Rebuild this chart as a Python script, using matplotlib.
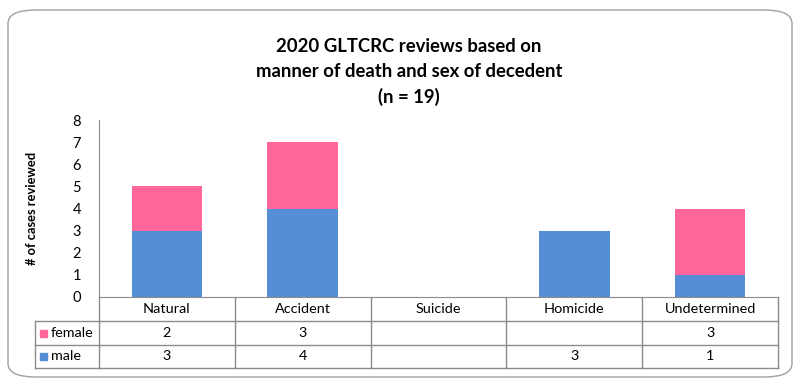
import matplotlib
matplotlib.use("Agg")
import matplotlib.pyplot as plt
from matplotlib.patches import FancyBboxPatch, Rectangle
from matplotlib.transforms import blended_transform_factory
import numpy as np

categories = ["Natural", "Accident", "Suicide", "Homicide", "Undetermined"]
male = [3, 4, None, 3, 1]
female = [2, 3, None, None, 3]
series_names = ["female", "male"]
yticks = [0, 1, 2, 3, 4, 5, 6, 7, 8]
title = "2020 GLTCRC reviews based on\nmanner of death and sex of decedent\n(n = 19)"
ylabel = "# of cases reviewed"

BLUE = "#558ED5"
PINK = "#FF6699"
GRID = "#8C8C8C"
FONT = "Lato"

W, H = 800, 384
fig = plt.figure(figsize=(W / 100, H / 100), dpi=100)
plt.rcParams['font.family'] = [FONT, 'DejaVu Sans']

def fy(py):
    return 1 - py / H

# outer rounded border
border = FancyBboxPatch((8 / W, fy(377)), (792 - 8) / W, (377 - 10) / H,
                        boxstyle="round,pad=0,rounding_size=0.035",
                        transform=fig.transFigure, fill=False,
                        edgecolor="#A0A0A0", linewidth=1.0)
fig.patches.append(border)

ax_left, ax_right, ax_top, ax_bot = 99, 778, 120, 297
ax = fig.add_axes([ax_left / W, fy(ax_bot), (ax_right - ax_left) / W, (ax_bot - ax_top) / H])

x = np.arange(len(categories))
m = np.array([v if v is not None else 0 for v in male], dtype=float)
f = np.array([v if v is not None else 0 for v in female], dtype=float)
bw = 0.52
ax.bar(x, m, width=bw, color=BLUE, zorder=2)
ax.bar(x, f, width=bw, bottom=m, color=PINK, zorder=2)

ax.set_xlim(-0.5, len(categories) - 0.5)
ax.set_ylim(0, 8)
ax.set_yticks(yticks)
ax.set_yticklabels([str(t) for t in yticks], fontsize=10.5)
ax.tick_params(axis='y', length=0, pad=13)
ax.set_xticks([])
for s in ["top", "right"]:
    ax.spines[s].set_visible(False)
ax.spines["left"].set_color(GRID)
ax.spines["bottom"].set_color(GRID)

ax.set_ylabel(ylabel, fontsize=9.3, fontweight="bold")
ax.yaxis.set_label_coords(-(99 - 38) / (ax_right - ax_left), 0.5)

fig.text(409 / W, fy(72), title, ha="center", va="center", fontsize=13.3,
         fontweight="bold", linespacing=1.58)

# data table
tr = blended_transform_factory(ax.transData, fig.transFigure)
row_y = [297, 321, 345, 368]
xl, xr = -0.5, len(categories) - 0.5
lw = 1.0
for yy in row_y[1:]:
    ax.plot([xl, xr], [fy(yy)] * 2, transform=tr, color=GRID, lw=lw, clip_on=False)
for b in np.arange(len(categories) + 1) - 0.5:
    ax.plot([b, b], [fy(row_y[0]), fy(row_y[3])], transform=tr, color=GRID, lw=lw, clip_on=False)
leg_l = 35
for yy in row_y[1:]:
    fig.add_artist(plt.Line2D([leg_l / W, ax_left / W], [fy(yy)] * 2, color=GRID, lw=lw))
fig.add_artist(plt.Line2D([leg_l / W, leg_l / W], [fy(row_y[1]), fy(row_y[3])], color=GRID, lw=lw))

for i, c in enumerate(categories):
    ax.text(i, fy((row_y[0] + row_y[1]) / 2), c, transform=tr, ha="center", va="center", fontsize=10.4)
rows = [("female", female, PINK), ("male", male, BLUE)]
for r, (name, vals, col) in enumerate(rows):
    yc = fy((row_y[r + 1] + row_y[r + 2]) / 2)
    fig.add_artist(Rectangle((40 / W, yc - 3.5 / H), 7 / W, 7 / H, transform=fig.transFigure,
                             color=col))
    fig.text(51 / W, yc, name, ha="left", va="center", fontsize=10.4)
    for i, v in enumerate(vals):
        if v is not None:
            ax.text(i, yc, str(v), transform=tr, ha="center", va="center", fontsize=10.4)

fig.savefig("out.png", dpi=100)
